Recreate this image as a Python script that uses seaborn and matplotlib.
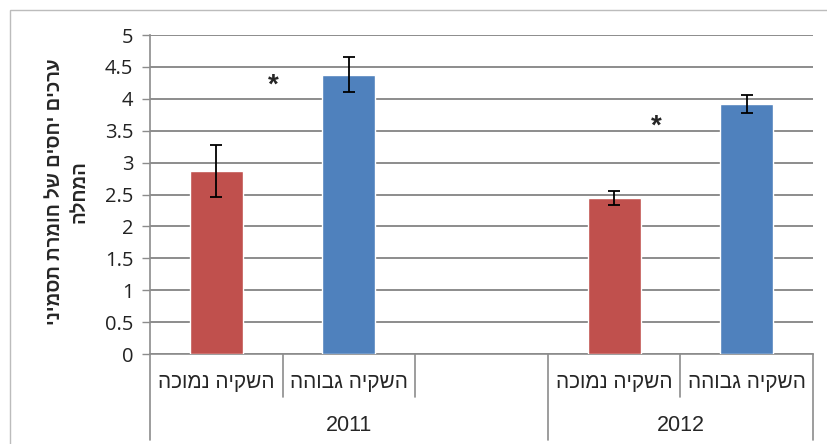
import pandas as pd
import seaborn as sns
import matplotlib.pyplot as plt
from matplotlib.patches import Rectangle
from matplotlib.transforms import blended_transform_factory

# נתונים
years = ['2011', '2011', '2011', '2012', '2012']
treatments = ['השקיה נמוכה', 'השקיה גבוהה', '', 'השקיה נמוכה', 'השקיה גבוהה']
values = [2.87, 4.38, None, 2.45, 3.92]
errors = [0.41, 0.28, None, 0.11, 0.14]
bar_colors = ['#C0504D', '#4F81BD', '#FFFFFF', '#C0504D', '#4F81BD']
stars = [(0.43, 4.31), (3.32, 3.68)]
y_label = ['ערכים יחסים של חומרת תסמיני', 'המחלה']


def rtl(s):
    # matplotlib אינו הופך טקסט עברי, לכן הופכים ידנית
    return s[::-1]


slots = [f'{y}_{i}' for i, y in enumerate(years)]
df = pd.DataFrame({'slot': slots, 'value': values})
df_bars = df.dropna()

sns.set_theme(style="white")
plt.rcParams['font.family'] = ['Liberation Sans', 'DejaVu Sans']

fig = plt.figure(figsize=(8.27, 4.44), dpi=100)
ax = fig.add_axes([150 / 827, 1 - 354 / 444, (813 - 150) / 827, (354 - 35) / 444])

# מסגרת חיצונית של התרשים
fig.patches.append(Rectangle((10 / 827, -0.1), 1.2, 1.1 - 10 / 444, transform=fig.transFigure,
                             fill=False, edgecolor='#bcbcbc', lw=1.0, zorder=0))

palette = dict(zip(slots, bar_colors))
sns.barplot(data=df_bars, x='slot', y='value', hue='slot', order=slots, palette=palette,
            width=0.4, legend=False, saturation=1, ax=ax, zorder=3)

# קווי שגיאה
for i, (v, e) in enumerate(zip(values, errors)):
    if v is None:
        continue
    ax.errorbar(i, v, yerr=e, fmt='none', ecolor='black', elinewidth=1.3,
                capsize=4.3, capthick=1.3, zorder=4)

for sx, sy in stars:
    ax.annotate('*', (sx, sy), xytext=(0, -5), textcoords='offset points',
                ha='center', va='center', fontsize=20, fontweight='bold')

ax.set_xlim(-0.5, len(slots) - 0.5)
ax.set_ylim(0, 5)
ax.set_yticks([i * 0.5 for i in range(11)])
ax.set_yticklabels(['0', '0.5', '1', '1.5', '2', '2.5', '3', '3.5', '4', '4.5', '5'],
                   fontsize=14.5, family=['Open Sans', 'DejaVu Sans'], color='#222222')
ax.tick_params(axis='y', length=6, width=1, color='#8c8c8c', direction='out', left=True, pad=6)
ax.yaxis.grid(True, color='#8c8c8c', lw=1.4)
ax.set_axisbelow(True)
ax.set_xticks([])
ax.set_xlabel('')
ax.set_ylabel('')
for s in ['top', 'right']:
    ax.spines[s].set_visible(False)
for s in ['left', 'bottom']:
    ax.spines[s].set_color('#8c8c8c')
    ax.spines[s].set_linewidth(1.2)

# תוויות ציר x בשתי רמות
tr = blended_transform_factory(ax.transData, ax.transAxes)
for i, t in enumerate(treatments):
    if t:
        ax.text(i, -0.09, rtl(t), transform=tr, ha='center', va='center', fontsize=15)
for i in range(1, len(slots)):
    bottom = -0.27 if years[i] != years[i - 1] else -0.135
    ax.plot([i - 0.5, i - 0.5], [0, bottom], transform=tr, color='#8c8c8c', lw=1.2, clip_on=False)
for xb in [-0.5, len(slots) - 0.5]:
    ax.plot([xb, xb], [0, -0.27], transform=tr, color='#8c8c8c', lw=1.2, clip_on=False)

year_groups = {}
for i, y in enumerate(years):
    year_groups.setdefault(y, []).append(i)
for y, idx in year_groups.items():
    ax.text((min(idx) + max(idx)) / 2, -0.225, y, transform=tr, ha='center', va='center', fontsize=15.5)

# כותרת ציר y
fig.text(55 / 827, 1 - 192 / 444, rtl(y_label[0]), rotation=90, ha='center', va='center',
         fontsize=13.5, fontweight='bold')
fig.text(80 / 827, 1 - 192 / 444, rtl(y_label[1]), rotation=90, ha='center', va='center',
         fontsize=13.5, fontweight='bold')

fig.savefig('out.png', dpi=100)
